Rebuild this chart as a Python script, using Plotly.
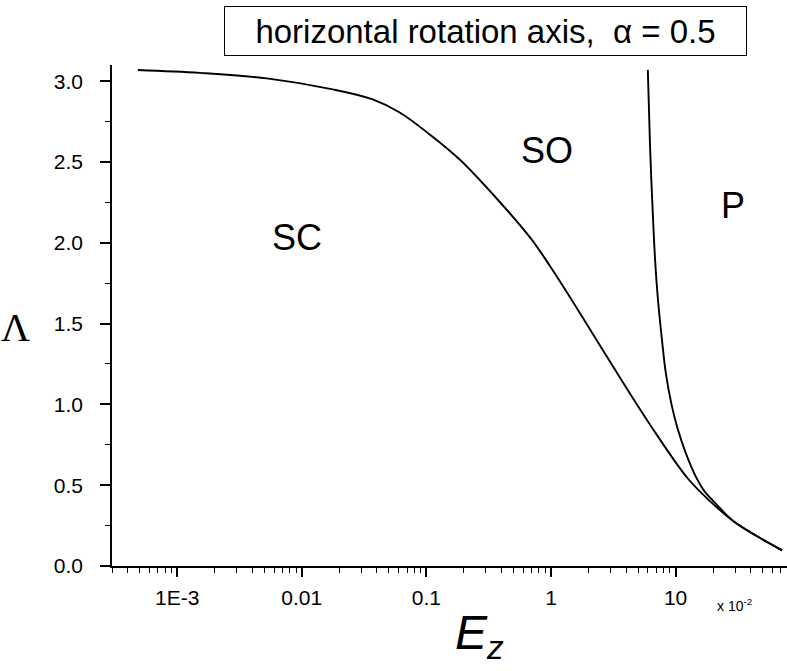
import plotly.graph_objects as go

# SC / SO boundary (E_z in units of 1e-2, Lambda)
sc_so_E = [4.84e-4, 1.52e-3, 5.24e-3, 0.01774, 0.0371, 0.0611, 0.1064, 0.185, 0.3664,
           0.6837, 0.987, 1.816, 3.402, 6.256, 12.39, 18.95, 28.96, 45.11, 71.57]
sc_so_L = [3.069, 3.051, 3.017, 2.949, 2.887, 2.806, 2.670, 2.515, 2.274,
           2.030, 1.853, 1.532, 1.192, 0.873, 0.546, 0.400, 0.279, 0.184, 0.097]

# SO / P boundary
so_p_E = [5.985, 6.233, 6.493, 6.837, 7.227, 7.780, 8.330, 9.270, 10.36, 12.01, 14.63,
          17.05, 19.76, 23.34, 28.96, 45.11, 71.57]
so_p_L = [3.07, 2.60, 2.262, 1.903, 1.643, 1.396, 1.198, 1.0, 0.852, 0.703, 0.548,
          0.462, 0.408, 0.348, 0.279, 0.184, 0.097]

x_major = [1e-3, 1e-2, 1e-1, 1, 10]
x_major_text = ["1E-3", "0.01", "0.1", "1", "10"]
x_minor = [m * 10 ** e for e in range(-4, 2) for m in range(2, 10)]
y_major = [0.0, 0.5, 1.0, 1.5, 2.0, 2.5, 3.0]
y_minor = [0.25, 0.75, 1.25, 1.75, 2.25, 2.75]

region_labels = ["SC", "SO", "P"]
title_text = "horizontal rotation axis,  \u03b1 = 0.5"

fig = go.Figure()
line = dict(color="black", width=1.9, shape="spline", smoothing=1.0)
fig.add_trace(go.Scatter(x=sc_so_E, y=sc_so_L, mode="lines", line=line, showlegend=False))
fig.add_trace(go.Scatter(x=so_p_E, y=so_p_L, mode="lines", line=line, showlegend=False))

font = "Arial, Liberation Sans, sans-serif"
fig.update_layout(
    width=787, height=671,
    margin=dict(l=112, r=0, t=65, b=105),
    paper_bgcolor="white", plot_bgcolor="white",
    font=dict(family=font, size=21, color="black"),
    showlegend=False,
)
fig.update_xaxes(
    type="log", range=[-3.523, 1.894], automargin=False,
    showline=True, linecolor="black", linewidth=1.5,
    showgrid=False, zeroline=False,
    ticks="outside", ticklen=9, tickwidth=1.5, tickcolor="black",
    tickvals=x_major, ticktext=x_major_text, ticklabelstandoff=3,
    minor=dict(tickvals=x_minor, ticks="outside", ticklen=5, tickwidth=1.2, tickcolor="black"),
)
fig.update_yaxes(
    range=[0, 3.1], automargin=False,
    showline=True, linecolor="black", linewidth=1.5,
    showgrid=False, zeroline=False,
    ticks="outside", ticklen=10, tickwidth=1.5, tickcolor="black",
    tickvals=y_major, ticktext=[f"{v:.1f}" for v in y_major], ticklabelstandoff=13,
    minor=dict(tickvals=y_minor, ticks="outside", ticklen=5, tickwidth=1.2, tickcolor="black"),
)

ann = []
ann.append(dict(xref="paper", yref="paper", x=0.554, y=1.068, text=title_text,
                showarrow=False, font=dict(size=33, family=font), bordercolor="black",
                borderwidth=1, borderpad=0, bgcolor="white", width=521, height=48,
                xanchor="center", yanchor="middle"))
pos = [(0.274, 0.655), (0.645, 0.83), (0.92, 0.72)]
for t, (px, py) in zip(region_labels, pos):
    ann.append(dict(xref="paper", yref="paper", x=px, y=py, text=t, showarrow=False,
                    font=dict(size=36, family=font), xanchor="center", yanchor="middle"))
ann.append(dict(xref="paper", yref="paper", x=0.545, y=0, yshift=-38, text="<i>E<sub>z</sub></i>",
                showarrow=False, font=dict(size=48, family=font), xanchor="center", yanchor="top"))
ann.append(dict(xref="paper", yref="paper", x=-0.143, y=0.476, text="\u039b",
                showarrow=False, font=dict(size=40, family="Times New Roman, Liberation Serif, serif"),
                xanchor="center", yanchor="middle"))
ann.append(dict(xref="paper", yref="paper", x=0.894, y=0, yshift=-28, text="x 10<sup>-2</sup>",
                showarrow=False, font=dict(size=14, family=font), xanchor="left", yanchor="top"))
fig.update_layout(annotations=ann)

fig.write_html("out.html", config={"displayModeBar": False},
               post_script="document.body.style.margin='0px';")
